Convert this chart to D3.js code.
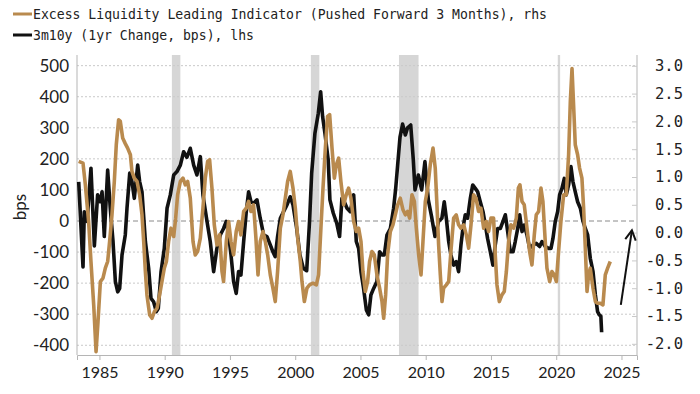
<!DOCTYPE html>
<html><head><meta charset="utf-8">
<script src="https://cdn.jsdelivr.net/npm/d3@7"></script>
<style>body{margin:0;background:#fff}svg{display:block}</style>
</head><body><div id="chart"></div>
<script>
// ---- data ----
const blackYears = [1983.41,1983.74,1983.84,1984.05,1984.35,1984.61,1984.86,1985.07,1985.2,1985.37,1985.63,1985.83,1986.04,1986.22,1986.4,1986.55,1986.73,1986.98,1987.11,1987.32,1987.49,1987.67,1987.93,1988.08,1988.26,1988.52,1988.77,1988.95,1989.15,1989.36,1989.51,1989.72,1989.97,1990.18,1990.43,1990.69,1990.94,1991.2,1991.45,1991.7,1991.96,1992.22,1992.47,1992.73,1992.93,1993.24,1993.49,1993.75,1994.0,1994.26,1994.51,1994.72,1994.9,1995.08,1995.28,1995.48,1995.66,1995.84,1996.05,1996.25,1996.43,1996.61,1996.81,1997.07,1997.32,1997.58,1997.84,1998.09,1998.29,1998.47,1998.65,1998.86,1999.11,1999.37,1999.62,1999.83,2000.1,2000.36,2000.62,2000.88,2001.1,2001.26,2001.51,2001.77,2001.95,2002.1,2002.28,2002.53,2002.66,2002.92,2003.18,2003.4,2003.58,2003.76,2003.97,2004.22,2004.48,2004.68,2004.86,2005.04,2005.24,2005.45,2005.63,2005.8,2006.01,2006.26,2006.47,2006.65,2006.83,2007.03,2007.29,2007.54,2007.7,2007.85,2008.03,2008.23,2008.44,2008.61,2008.85,2009.05,2009.18,2009.44,2009.69,2009.94,2010.2,2010.45,2010.71,2010.99,2011.24,2011.42,2011.58,2011.76,2011.93,2012.14,2012.34,2012.52,2012.7,2012.85,2013.03,2013.21,2013.42,2013.6,2013.8,2013.98,2014.18,2014.39,2014.57,2014.74,2014.95,2015.15,2015.33,2015.51,2015.72,2015.92,2016.1,2016.28,2016.48,2016.69,2016.86,2017.05,2017.2,2017.38,2017.55,2017.76,2017.96,2018.22,2018.47,2018.73,2018.91,2019.16,2019.42,2019.6,2019.75,2019.93,2020.11,2020.26,2020.44,2020.62,2020.77,2020.95,2021.13,2021.28,2021.46,2021.64,2021.85,2022.05,2022.23,2022.41,2022.61,2022.82,2023.0,2023.17,2023.3,2023.42,2023.48];
const blackVals = [126,-148,30,-1,170,-80,84,62,94,-50,164,41,-66,-195,-228,-217,-109,-45,41,154,127,73,180,127,94,-66,-152,-249,-260,-292,-281,-163,-88,41,84,148,159,180,223,205,234,180,148,207,84,-1,-66,-163,-88,-45,-24,-1,-45,-109,-195,-233,-163,-174,-66,30,94,62,57,68,9,-45,-50,-77,-99,-115,-50,9,30,52,78,52,-20,-109,-152,-160,0,153,282,347,416,336,282,196,68,25,-7,-50,73,62,41,30,84,-66,-88,-163,-217,-286,-302,-238,-217,-195,-99,-109,-109,-45,-24,41,105,180,270,312,277,300,309,196,100,148,100,191,68,14,-50,-1,9,62,9,-66,-109,-142,-131,-163,-77,-24,20,9,73,116,105,94,62,30,-13,-56,-99,-142,-77,-24,-24,-1,20,-34,-99,-99,-66,-24,20,-34,-13,-45,-88,-77,-72,-82,-66,-82,-88,-88,-56,-1,30,84,105,137,84,116,175,127,94,62,41,-1,-24,-45,-120,-163,-238,-292,-302,-306,-358];

const goldYears = [1983.41,1983.74,1983.92,1984.17,1984.35,1984.56,1984.74,1984.89,1985.07,1985.27,1985.45,1985.63,1985.78,1985.96,1986.14,1986.29,1986.47,1986.6,1986.78,1986.98,1987.16,1987.37,1987.49,1987.67,1987.88,1988.08,1988.26,1988.39,1988.52,1988.64,1988.85,1989.03,1989.21,1989.41,1989.61,1989.79,1989.97,1990.13,1990.3,1990.48,1990.69,1990.84,1990.99,1991.2,1991.4,1991.58,1991.76,1991.96,1992.17,1992.34,1992.52,1992.73,1992.93,1993.11,1993.29,1993.44,1993.62,1993.8,1994.0,1994.21,1994.39,1994.51,1994.72,1994.9,1995.08,1995.28,1995.48,1995.66,1995.84,1996.05,1996.25,1996.43,1996.61,1996.81,1996.99,1997.15,1997.32,1997.53,1997.71,1997.89,1998.09,1998.29,1998.47,1998.65,1998.86,1999.06,1999.24,1999.42,1999.62,1999.83,2000.01,2000.19,2000.39,2000.52,2000.7,2000.9,2001.1,2001.36,2001.62,2001.79,2001.97,2002.13,2002.31,2002.48,2002.64,2002.82,2003.0,2003.15,2003.33,2003.5,2003.71,2003.91,2004.09,2004.27,2004.48,2004.68,2004.86,2005.04,2005.19,2005.37,2005.55,2005.7,2005.88,2006.06,2006.26,2006.47,2006.65,2006.78,2006.93,2007.08,2007.29,2007.49,2007.67,2007.85,2008.05,2008.26,2008.44,2008.61,2008.77,2008.95,2009.13,2009.28,2009.46,2009.64,2009.79,2009.97,2010.15,2010.35,2010.56,2010.73,2010.86,2010.99,2011.12,2011.25,2011.37,2011.58,2011.76,2011.93,2012.14,2012.34,2012.52,2012.7,2012.91,2013.11,2013.29,2013.47,2013.67,2013.85,2014.05,2014.23,2014.44,2014.64,2014.82,2015.0,2015.2,2015.33,2015.46,2015.64,2015.84,2016.02,2016.18,2016.35,2016.53,2016.74,2016.94,2017.1,2017.22,2017.38,2017.55,2017.76,2017.96,2018.14,2018.32,2018.47,2018.65,2018.83,2018.98,2019.16,2019.29,2019.5,2019.67,2019.85,2020.01,2020.18,2020.36,2020.57,2020.77,2020.95,2021.08,2021.21,2021.33,2021.46,2021.64,2021.79,2021.97,2022.1,2022.23,2022.36,2022.48,2022.61,2022.82,2023.0,2023.17,2023.38,2023.58,2023.76,2023.94,2024.14];
const goldVals = [1.28,1.25,0.86,0.20,-0.52,-1.30,-2.14,-1.60,-0.88,-0.82,-0.64,-0.52,-0.16,0.32,0.92,1.58,2.03,2.00,1.70,1.60,1.52,1.40,1.10,0.98,0.92,0.68,0.32,-0.16,-0.70,-1.12,-1.48,-1.54,-1.42,-1.36,-1.12,-0.88,-0.64,-0.52,-0.16,0.08,-0.07,0.26,0.68,0.92,0.98,0.86,0.92,0.62,-0.16,-0.40,-0.34,-0.10,0.44,0.98,1.28,1.31,0.80,0.14,-0.22,-0.04,-0.70,-0.88,-0.16,0.20,-0.16,-0.40,0.02,0.20,-0.04,0.38,0.44,0.56,0.38,0.50,-0.10,-0.76,-0.16,0.02,-0.16,-0.40,-0.76,-1.00,-1.24,-0.70,0.08,0.32,0.62,0.92,1.10,0.80,0.44,-0.10,-0.52,-0.88,-1.24,-1.00,-0.94,-0.91,-0.94,-0.76,0.08,0.80,1.52,2.09,2.12,1.52,0.98,1.22,1.34,0.92,0.50,0.68,0.80,0.62,0.20,0.02,0.08,-0.16,-0.70,-1.06,-0.88,-0.52,-0.34,-0.40,-0.76,-1.00,-1.24,-1.54,-1.12,-0.40,0.02,0.14,0.32,0.50,0.62,0.41,0.32,0.38,0.26,0.68,0.56,0.08,-0.40,-0.76,-0.16,0.56,0.80,1.22,1.52,1.16,0.50,-0.22,-0.76,-1.24,-1.00,-0.94,-0.88,-0.34,0.26,0.32,0.14,0.08,0.14,-0.04,-0.28,0.14,0.68,0.62,0.38,0.44,0.08,0.20,0.02,0.26,0.26,-0.40,-0.94,-1.24,-1.12,-1.06,-0.70,-0.16,0.14,0.08,0.26,0.80,0.86,0.56,0.50,0.08,-0.34,-0.58,-0.04,0.32,0.38,0.80,0.56,-0.16,-0.64,-0.88,-0.70,-0.76,-0.88,-0.34,0.20,0.68,0.68,1.40,2.35,2.95,2.30,1.58,1.40,1.16,0.98,0.44,-0.28,-1.06,-0.76,-0.64,-1.00,-1.24,-1.27,-1.27,-1.30,-0.76,-0.64,-0.52];

const recessions = [[1990.55,1991.2],[2001.2,2001.85],[2007.95,2009.45],[2020.12,2020.3]];
const xTicks = [1985,1990,1995,2000,2005,2010,2015,2020,2025];
const leftTicks = [500,400,300,200,100,0,-100,-200,-300,-400];
const rightTicks = [3.0,2.5,2.0,1.5,1.0,0.5,0.0,-0.5,-1.0,-1.5,-2.0];
const legendLabels = ["Excess Liquidity Leading Indicator (Pushed Forward 3 Months), rhs","3m10y (1yr Change, bps), lhs"];
const arrowFrom = [2024.95,-270], arrowTo = [2025.8,-30];

// ---- layout ----
const W=700,H=394, L=77,R=637,T=55,B=355;
const GOLD="#b98a4e", BLACK="#111111", GRID="#c9c9c9", AXIS="#b5b5b5";
const svg=d3.select("#chart").append("svg").attr("width",W).attr("height",H);

const x=d3.scaleLinear().domain([1983.28,2026.19]).range([L,R]);
const yL=d3.scaleLinear().domain([-431.3,534.3]).range([B,T]);
const yR=d3.scaleLinear().domain([-2.201,3.194]).range([B,T]);

// recessions
svg.append("g").selectAll("rect").data(recessions).join("rect")
  .attr("x",d=>x(d[0])).attr("width",d=>Math.max(2,x(d[1])-x(d[0])))
  .attr("y",T).attr("height",B-T).attr("fill","#d6d6d6");

// gridlines
svg.append("g").selectAll("line").data(leftTicks).join("line")
  .attr("x1",L).attr("x2",R).attr("y1",d=>yL(d)).attr("y2",d=>yL(d))
  .attr("stroke",d=>d===0?"#8a8a8a":GRID).attr("stroke-width",1)
  .attr("stroke-dasharray",d=>d===0?"5,3":"2,2");

// axes lines
svg.append("line").attr("x1",L).attr("x2",L).attr("y1",T).attr("y2",B).attr("stroke",AXIS);
svg.append("line").attr("x1",R).attr("x2",R).attr("y1",T).attr("y2",B).attr("stroke",AXIS);

// bottom axis
const xAxis=d3.axisBottom(x).tickValues(xTicks).tickFormat(d=>String(d)).tickSize(5).tickPadding(7);
const gx=svg.append("g").attr("transform",`translate(0,${B})`).call(xAxis);
gx.select(".domain").attr("stroke",AXIS);
gx.selectAll(".tick line").attr("stroke",AXIS);
gx.selectAll("text").attr("font-family","Lato, sans-serif").attr("font-size",16).attr("fill","#222");

// left axis
const yAxisL=d3.axisLeft(yL).tickValues(leftTicks).tickFormat(d=>String(d)).tickSize(0).tickPadding(8);
const gl=svg.append("g").attr("transform",`translate(${L},0)`).call(yAxisL);
gl.select(".domain").remove();
gl.selectAll("text").attr("font-family","Lato, sans-serif").attr("font-size",17).attr("fill","#222");

// right axis
const yAxisR=d3.axisRight(yR).tickValues(rightTicks).tickFormat(d=>d3.format(".1f")(d).replace("−","-")).tickSize(-5).tickPadding(0);
const gr=svg.append("g").attr("transform",`translate(${R},0)`).call(yAxisR);
gr.select(".domain").remove();
gr.selectAll(".tick line").attr("stroke",GRID);
gr.selectAll("text").attr("font-family","'DejaVu Sans Mono', monospace").attr("font-size",15.5)
  .attr("fill","#222").attr("text-anchor","end").attr("x",46);

// y label
svg.append("text").attr("transform","translate(26,207) rotate(-90)").attr("text-anchor","middle")
  .attr("font-family","Lato, sans-serif").attr("font-size",17).attr("fill","#222").text("bps");

// lines
const goldData=goldYears.map((d,i)=>[d,goldVals[i]]);
const blackData=blackYears.map((d,i)=>[d,blackVals[i]]);
svg.append("path").datum(blackData).attr("fill","none").attr("stroke",BLACK).attr("stroke-width",3.6)
  .attr("stroke-linejoin","round").attr("d",d3.line().x(d=>x(d[0])).y(d=>yL(d[1])));
svg.append("path").datum(goldData).attr("fill","none").attr("stroke",GOLD).attr("stroke-width",3.6)
  .attr("stroke-linejoin","round").attr("d",d3.line().x(d=>x(d[0])).y(d=>yR(d[1])));

// arrow
const ax1=x(arrowFrom[0]), ay1=yL(arrowFrom[1]), ax2=x(arrowTo[0]), ay2=yL(arrowTo[1]);
svg.append("line").attr("x1",ax1).attr("y1",ay1).attr("x2",ax2).attr("y2",ay2).attr("stroke","#111").attr("stroke-width",2);
const ang=Math.atan2(ay2-ay1,ax2-ax1), hl=11, spread=0.5;
svg.append("path").attr("fill","none").attr("stroke","#111").attr("stroke-width",2)
  .attr("d",`M${ax2-hl*Math.cos(ang-spread)},${ay2-hl*Math.sin(ang-spread)}L${ax2},${ay2}L${ax2-hl*Math.cos(ang+spread)},${ay2-hl*Math.sin(ang+spread)}`);

// legend
const lg=svg.append("g");
[[GOLD,14,514],[BLACK,35,221]].forEach((c,i)=>{
  lg.append("line").attr("x1",13).attr("x2",32).attr("y1",c[1]).attr("y2",c[1]).attr("stroke",c[0]).attr("stroke-width",3);
  lg.append("text").attr("x",33).attr("y",c[1]+5).attr("font-family","'DejaVu Sans Mono', monospace")
    .attr("font-size",14).attr("fill","#222").attr("textLength",c[2]).attr("lengthAdjust","spacingAndGlyphs").text(legendLabels[i]);
});
</script></body></html>
